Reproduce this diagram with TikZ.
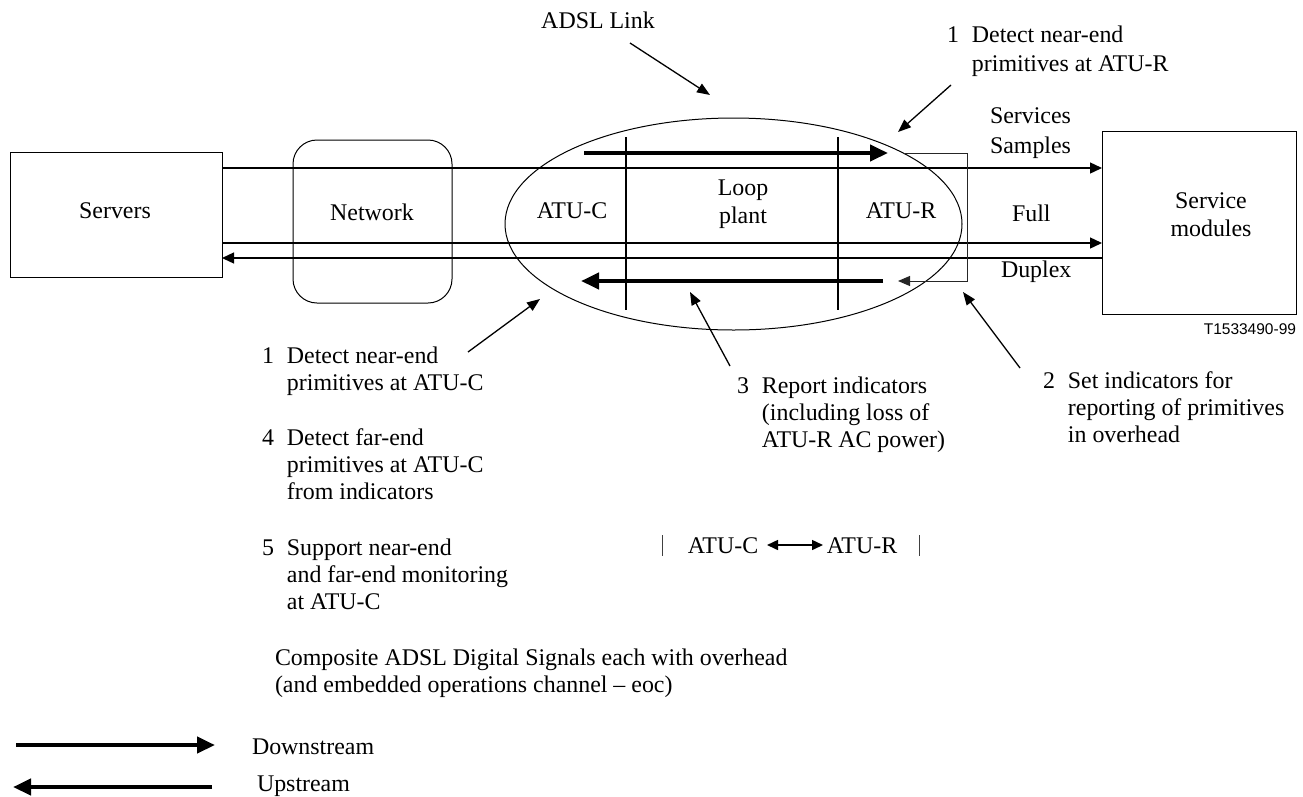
\documentclass[tikz,border=0pt]{standalone}
\usepackage{fontspec}
\setmainfont{Liberation Serif}
\newfontfamily\sansf{Liberation Sans}
\usetikzlibrary{arrows.meta,shapes.geometric}
\begin{document}
\begin{tikzpicture}[x=1pt,y=-1pt,
  every node/.style={font=\fontsize{23.9}{27.3}\selectfont, inner sep=0pt, outer sep=0pt},
  box/.style={draw, line width=1pt},
  conn/.style={line width=1.3pt},
  thintip/.style={-{Triangle[length=12pt,width=11pt]}},
  fat/.style={line width=4.3pt, -{Triangle[length=18pt,width=16pt]}},
  callout/.style={line width=1.3pt, -{Triangle[length=13pt,width=10pt]}},
  item/.style={anchor=base west}
]
\useasboundingbox (0,0) rectangle (1303,796);

% main boxes
\node[box, minimum width=212pt, minimum height=125pt] (srv) at (116,214.5) {};
\node[anchor=base] (srvl) at (115,218) {Servers};
\node[box, rounded corners=24pt, minimum width=159pt, minimum height=163pt] (net) at (372.5,221.5) {};
\node[anchor=base] (netl) at (372,220) {Network};
\node[box, minimum width=194pt, minimum height=183pt] (svc) at (1199,222.5) {};
\node[anchor=base, align=center] (svcl) at (1211,236) {Service\\modules};

% ADSL link ellipse
\node[draw, ellipse, line width=1pt, minimum width=457pt, minimum height=212pt] (link) at (733.5,224) {};

% partition lines
\coordinate (v1t) at (626,137); \coordinate (v1b) at (626,310);
\coordinate (v2t) at (838,137); \coordinate (v2b) at (838,310);
\draw[line width=1.5pt] (v1t) -- (v1b);
\draw[line width=1.5pt] (v2t) -- (v2b);

\node[anchor=base] (atuc) at (572,218) {ATU-C};
\node[anchor=base, align=center] (loop) at (743,223) {Loop\\plant};
\node[anchor=base] (atur) at (901,218) {ATU-R};

% service lines
\coordinate (y1) at (0,168);
\coordinate (y2) at (0,243);
\coordinate (y3) at (0,258);
\draw[conn, thintip] (srv.east |- y1) -- (svc.west |- y1);
\draw[conn, thintip] (srv.east |- y2) -- (svc.west |- y2);
\draw[conn, thintip] (svc.west |- y3) -- (srv.east |- y3);

\node[anchor=base west] (serv) at (990,123) {Services};
\node[anchor=base west] (samp) at (990,153) {Samples};
\node[anchor=base west] (full) at (1012,221) {Full};
\node[anchor=base west] (dupl) at (1001,277) {Duplex};

% thick downstream / upstream arrows
\coordinate (ds1) at (584,153); \coordinate (ds2) at (888,153);
\coordinate (us1) at (883,281); \coordinate (us2) at (581,281);
\draw[fat] (ds1) -- (ds2);
\draw[fat] (us1) -- (us2);

% ATU-R loop-back box
\coordinate (rb1) at (903,153); \coordinate (rbx) at (967,0); \coordinate (rb2) at (898,281);
\draw[line width=1pt, black!85, -{Triangle[length=12pt,width=10pt]}]
  (rb1) -- (rb1 -| rbx) -- (rb2 -| rbx) -- (rb2);

\node[anchor=base east, font=\sansf\fontsize{15.5}{18}\selectfont] (fig) at (1296,334) {T1533490-99};

% callouts
\node[anchor=base] (adsl) at (598,28) {ADSL Link};
\coordinate (adslA) at (630,43); \coordinate (adslB) at (710,95);
\draw[callout] (adslA) -- (adslB);

\node[item] (n1r) at (947,42) {\begin{tabular}[t]{@{}l@{\hspace{13pt}}l@{}}1 & Detect near-end\\[2pt] & primitives at ATU-R\end{tabular}};
\coordinate (n1rA) at (951,85); \coordinate (n1rB) at (898,132);
\draw[callout] (n1rA) -- (n1rB);

\node[item] (n1c) at (262,363) {\begin{tabular}[t]{@{}l@{\hspace{13pt}}l@{}}1 & Detect near-end\\ & primitives at ATU-C\end{tabular}};
\coordinate (n1cA) at (468,352); \coordinate (n1cB) at (540,299);
\draw[callout] (n1cA) -- (n1cB);

\node[item] (n4) at (262,445) {\begin{tabular}[t]{@{}l@{\hspace{13pt}}l@{}}4 & Detect far-end\\ & primitives at ATU-C\\ & from indicators\end{tabular}};
\node[item] (n5) at (262,555) {\begin{tabular}[t]{@{}l@{\hspace{13pt}}l@{}}5 & Support near-end\\ & and far-end monitoring\\ & at ATU-C\end{tabular}};

\node[item] (n3) at (737,393) {\begin{tabular}[t]{@{}l@{\hspace{13pt}}l@{}}3 & Report indicators\\ & (including loss of\\ & ATU-R AC power)\end{tabular}};
\coordinate (n3A) at (730,366); \coordinate (n3B) at (690,292);
\draw[callout] (n3A) -- (n3B);

\node[item] (n2) at (1043,388) {\begin{tabular}[t]{@{}l@{\hspace{13pt}}l@{}}2 & Set indicators for\\ & reporting of primitives\\ & in overhead\end{tabular}};
\coordinate (n2A) at (1020,368); \coordinate (n2B) at (963,292);
\draw[callout] (n2A) -- (n2B);

% ATU-C <-> ATU-R
\coordinate (b1t) at (662,535); \coordinate (b1b) at (662,556);
\coordinate (b2t) at (919,535); \coordinate (b2b) at (919,556);
\draw[line width=1pt, black!75] (b1t) -- (b1b);
\draw[line width=1pt, black!75] (b2t) -- (b2b);
\node[anchor=base] (lc) at (723,553) {ATU-C};
\node[anchor=base] (lr) at (862,553) {ATU-R};
\coordinate (dA) at (767,545); \coordinate (dB) at (823,545);
\draw[line width=1.5pt, {Triangle[length=11pt,width=10pt]}-{Triangle[length=11pt,width=10pt]}] (dA) -- (dB);

% composite text
\node[item] (comp) at (275,665) {\begin{tabular}[t]{@{}l@{}}Composite ADSL Digital Signals each with overhead\\(and embedded operations channel – eoc)\end{tabular}};

% legend
\coordinate (lg1) at (16,745); \coordinate (lg2) at (215,745);
\coordinate (lg3) at (212,787); \coordinate (lg4) at (13,787);
\draw[fat] (lg1) -- (lg2);
\draw[fat] (lg3) -- (lg4);
\node[anchor=base west] (down) at (252,754) {Downstream};
\node[anchor=base west] (up) at (257,791) {Upstream};
\end{tikzpicture}
\end{document}
